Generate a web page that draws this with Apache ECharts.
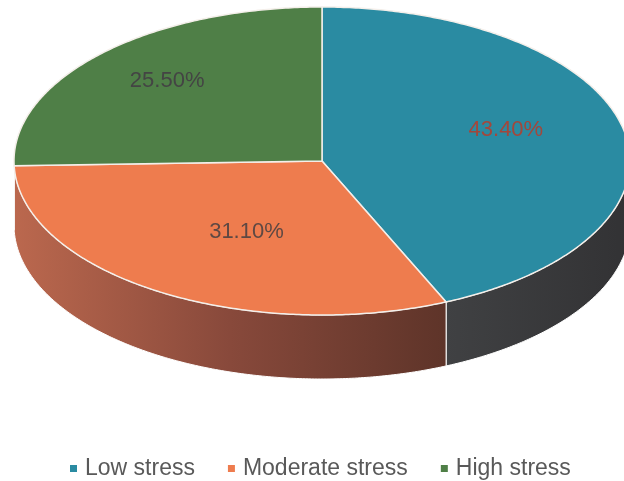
<!DOCTYPE html>
<html><head><meta charset="utf-8">
<script src="https://cdn.jsdelivr.net/npm/echarts@6/dist/echarts.min.js"></script>
<style>html,body{margin:0;padding:0;background:#fff}#c{width:624px;height:481px}</style>
</head><body><div id="c"></div>
<script>
const categories = ['Low stress', 'Moderate stress', 'High stress'];
const values = [43.4, 31.1, 25.5];
const valueLabels = ['43.40%', '31.10%', '25.50%'];

const topColors = ['#2a8ba2', '#ee7c4e', '#4f7f47'];
const sideFills = [
  {type: 'linear', x: 0, y: 0, x2: 1, y2: 0, colorStops: [{offset: 0, color: '#404143'}, {offset: 1, color: '#323234'}]},
  {type: 'linear', x: 0, y: 0, x2: 1, y2: 0, colorStops: [{offset: 0, color: '#bb684e'}, {offset: 0.5, color: '#88493b'}, {offset: 1, color: '#5e3429'}]},
  '#3a5a34'
];
const labelColors = ['#a3473b', '#5e4843', '#444444'];
const labelLayout = [{f: 0.61, dy: -12}, {f: 0.46, dy: 11}, {f: 0.70, dy: -5}];

const CX = 322, CY = 161, RX = 308, RY = 154, DEPTH = 64;
const total = values.reduce((a, b) => a + b, 0);
const TAU = Math.PI * 2;

function pt(theta, dy) {
  return [CX + RX * Math.sin(theta), CY - RY * Math.cos(theta) + (dy || 0)];
}
function arc(a0, a1, dy) {
  const pts = [];
  const n = Math.max(2, Math.ceil((a1 - a0) / 0.01));
  for (let i = 0; i <= n; i++) pts.push(pt(a0 + (a1 - a0) * i / n, dy));
  return pts;
}

function renderItem(params, api) {
  const i = params.dataIndex;
  let start = 0;
  for (let j = 0; j < i; j++) start += values[j];
  const v = api.value(0);
  const a0 = start / total * TAU, a1 = (start + v) / total * TAU;
  const children = [];
  const s0 = Math.max(a0, Math.PI / 2), s1 = Math.min(a1, Math.PI * 1.5);
  if (s1 > s0) {
    const top = arc(s0, s1, 0), bot = arc(s0, s1, DEPTH).reverse();
    children.push({type: 'polygon', z2: 1, shape: {points: top.concat(bot)},
      style: {fill: sideFills[i], stroke: '#ffffff', lineWidth: 1}});
  }
  children.push({type: 'polygon', z2: 10, shape: {points: [[CX, CY]].concat(arc(a0, a1, 0))},
    style: {fill: topColors[i], stroke: '#f4efea', lineWidth: 1.5}});
  const mid = (a0 + a1) / 2, L = labelLayout[i];
  const p = [CX + RX * Math.sin(mid) * L.f, CY - RY * Math.cos(mid) * L.f + L.dy];
  children.push({type: 'text', z2: 20, x: p[0], y: p[1],
    style: {text: valueLabels[i], fill: labelColors[i], font: '22px "Liberation Sans", Arial, sans-serif',
      align: 'center', verticalAlign: 'middle'}});
  return {type: 'group', children: children};
}

const chart = echarts.init(document.getElementById('c'), null, {renderer: 'canvas'});
const series = [{
  type: 'custom', name: 'pie3d', coordinateSystem: 'none', renderItem: renderItem,
  data: values.map((v, i) => ({name: categories[i], value: [v]})), silent: true, animation: false
}];
categories.forEach((c, i) => series.push({
  type: 'custom', name: c, coordinateSystem: 'none', renderItem: () => null, data: [],
  itemStyle: {color: topColors[i]}
}));

chart.setOption({
  animation: false,
  legend: {
    data: categories, left: 70, top: 457, padding: 0, icon: 'rect', itemWidth: 7, itemHeight: 7, itemGap: 33,
    textStyle: {fontSize: 23, color: '#595959', fontFamily: '"Liberation Sans", Arial, sans-serif', padding: [0, 0, 0, 3]}
  },
  series: series
});
</script>
</body></html>
